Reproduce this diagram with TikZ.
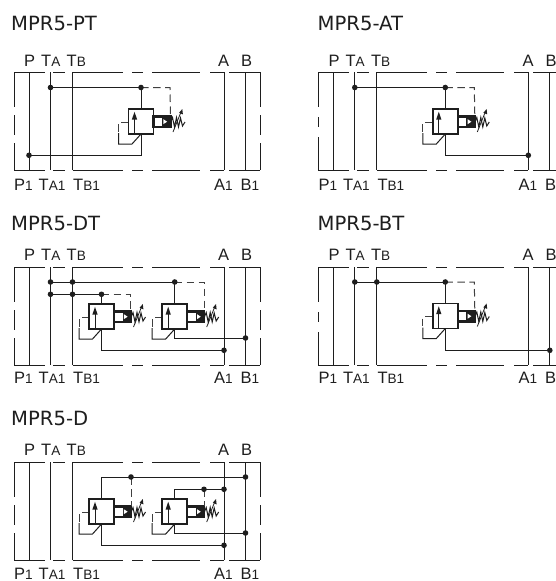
\documentclass[tikz,border=0pt]{standalone}
\usepackage{fontspec}
\setmainfont{Liberation Sans}
\newfontfamily\titlefont{DejaVu Sans}
\definecolor{ink}{HTML}{1E1E1E}
\newcommand\bigf{\fontsize{16.5}{16.5}\selectfont}
\newcommand\smf{\fontsize{13.6}{13.6}\selectfont}
\tikzset{
  pipe/.style={draw=ink,line width=1pt},
  pilot/.style={draw=ink!85,line width=1pt,dash pattern=on 7.5pt off 4.5pt},
  heavy/.style={draw=ink,line width=1.9pt},
  joint/.style={fill=ink,draw=none},
  porttext/.style={anchor=base west,inner sep=0pt,text=ink,font=\bigf},
  titletext/.style={anchor=base west,inner sep=0pt,text=ink,font=\titlefont\fontsize{19.6}{19.6}\selectfont},
}
% joint dot
\newcommand\dotat[2]{\fill[joint] (#1,#2) circle[radius=2.8];}
% frame with its ports: name, y of top labels, y of bottom labels, side gap limits, last label
\newcommand\frameports[8]{%
  \foreach \a/\b in {14/45,53/65,72.5/123,132/143,152/200,210/224,229/260}{
    \draw[pipe] (\a,72) -- (\b,72);
    \draw[pipe] (\a,170) -- (\b,170);
  }
  \foreach \s in {14,260}{
    \draw[pipe] (\s,72) -- (\s,#4);
    \draw[pipe] (\s,#5) -- (\s,#6);
    \draw[pipe] (\s,#7) -- (\s,170);
  }
  \foreach \s in {29,50.5,72.5,224,245.5}{\draw[pipe] (\s,72) -- (\s,170);}
  \node[porttext] (#1p)  at (24,#2) {P};
  \node[porttext] (#1ta) at (41,#2) {T\smf A};
  \node[porttext] (#1tb) at (66.5,#2) {T\smf B};
  \node[porttext] (#1a)  at (218,#2) {A};
  \node[porttext] (#1b)  at (241,#2) {B};
  \node[porttext] (#1pa) at (14,#3) {P\smf 1};
  \node[porttext] (#1tc) at (38.5,#3) {T\smf A1};
  \node[porttext] (#1td) at (73,#3) {T\smf B1};
  \node[porttext] (#1ab) at (214,#3) {A\smf 1};
  \node[porttext] (#1bb) at (240.5,#3) {#8};
}
% pressure relief valve; #1,#2 = top left corner of its square
\newcommand\valve[2]{%
  \begin{scope}[shift={(#1,#2)}]
    \draw[pilot] (0,13) -- (-10,13) -- (-10,24);
    \draw[pipe] (-10,24) -- (-10,35) -- (3.5,35) -- (12.5,25);
    \draw[pipe] (6,25) -- (6,8);
    \fill[ink] (3.4,10.5) -- (6,2.8) -- (8.6,10.5) -- cycle;
    \fill[ink] (33.5,7) rectangle (42.6,18.5);
    \fill[white] (34.8,10.2) -- (38.6,12.7) -- (34.8,15.2) -- cycle;
    \draw[heavy,line width=2.2pt] (25,7.5) rectangle (42,18);
    \draw[heavy] (0,0) rectangle (25,25);
    \draw[pipe] (42,13.5) -- (44,8.5) -- (46,18) -- (48,8.5) -- (50,18) -- (52,9) -- (54,17) -- (56.5,13);
    \draw[pipe,line width=0.8pt] (44.5,23) -- (52.5,3);
    \fill[ink] (53.8,0) -- (54.4,5.4) -- (50.6,3.8) -- cycle;
  \end{scope}
}
\begin{document}
\begin{tikzpicture}[x=1pt,y=-1pt]
\useasboundingbox (0,0) rectangle (556,581);
\clip (0,0) rectangle (556,581);
\fill[white] (0,0) rectangle (556,581);

% MPR5-PT
\node[titletext] (tpt) at (11,30.7) {MPR5-PT};
\begin{scope}
  \frameports{pt}{66.7}{190.7}{107}{115}{135}{143}{B\smf 1}
  \valve{128.5}{109}
  \draw[pipe] (50.5,87.5) -- (141,87.5) -- (141,109);
  \draw[pilot] (141,87.5) -- (170,87.5) -- (170.5,116);
  \draw[pipe] (141,134) -- (141,155.3) -- (29,155.3);
  \dotat{50.5}{87.5}\dotat{141}{87.5}\dotat{29}{155.3}
\end{scope}

% MPR5-AT
\node[titletext] (tat) at (317.5,30.7) {MPR5-AT};
\begin{scope}[shift={(304.3,0)}]
  \frameports{at}{66.7}{190.7}{107}{117}{127}{137}{B}
  \valve{128.5}{109}
  \draw[pipe] (50.5,87.5) -- (141,87.5) -- (141,109);
  \draw[pilot] (141,87.5) -- (170,87.5) -- (170.5,116);
  \draw[pipe] (141,134) -- (141,155.3) -- (224,155.3);
  \dotat{50.5}{87.5}\dotat{141}{87.5}\dotat{224}{155.3}
\end{scope}

% MPR5-DT
\node[titletext] (tdt) at (11,230.7) {MPR5-DT};
\begin{scope}[shift={(0,195.3)}]
  \frameports{dt}{64.7}{188}{107}{115}{135}{143}{B\smf 1}
  \valve{89}{108.7}
  \valve{162.2}{108.7}
  \draw[pipe] (50.5,86.7) -- (174.7,86.7) -- (174.7,108.7);
  \draw[pilot] (174.7,86.7) -- (204,86.7) -- (204,116);
  \draw[pipe] (50.5,99) -- (101.5,99) -- (101.5,108.7);
  \draw[pilot] (101.5,99) -- (130.8,99) -- (130.8,116);
  \draw[pipe] (101.5,133.7) -- (101.5,155) -- (224,155);
  \draw[pipe] (174.7,133.7) -- (174.7,142.7) -- (245.5,142.7);
  \dotat{50.5}{86.7}\dotat{72.5}{86.7}\dotat{174.7}{86.7}
  \dotat{50.5}{99}\dotat{72.5}{99}\dotat{101.5}{99}
  \dotat{224}{155}\dotat{245.5}{142.7}
\end{scope}

% MPR5-BT
\node[titletext] (tbt) at (317.5,230.7) {MPR5-BT};
\begin{scope}[shift={(304.3,195.3)}]
  \frameports{bt}{64.7}{188}{107}{117}{127}{137}{B}
  \valve{128.5}{108.2}
  \draw[pipe] (50.5,86.7) -- (141,86.7) -- (141,108.2);
  \draw[pilot] (141,86.7) -- (170,86.7) -- (170.5,115);
  \draw[pipe] (141,133.2) -- (141,155) -- (245.5,155);
  \dotat{50.5}{86.7}\dotat{72.5}{86.7}\dotat{141}{86.7}\dotat{245.5}{155}
\end{scope}

% MPR5-D
\node[titletext] (td) at (11,425.7) {MPR5-D};
\begin{scope}[shift={(0,390.3)}]
  \frameports{d}{64.7}{188.7}{107}{115}{135}{143}{B\smf 1}
  \valve{89}{108.7}
  \valve{162.2}{108.7}
  \draw[pipe] (101.5,108.7) -- (101.5,86.7) -- (245.5,86.7);
  \draw[pilot] (131,86.7) -- (131,116);
  \draw[pipe] (174.7,108.7) -- (174.7,99) -- (224,99);
  \draw[pilot] (204,99) -- (204,116);
  \draw[pipe] (101.5,133.7) -- (101.5,155) -- (224,155);
  \draw[pipe] (174.7,133.7) -- (174.7,142.7) -- (245.5,142.7);
  \dotat{131}{86.7}\dotat{245.5}{86.7}\dotat{204}{99}\dotat{224}{99}
  \dotat{224}{155}\dotat{245.5}{142.7}
\end{scope}
\end{tikzpicture}
\end{document}
